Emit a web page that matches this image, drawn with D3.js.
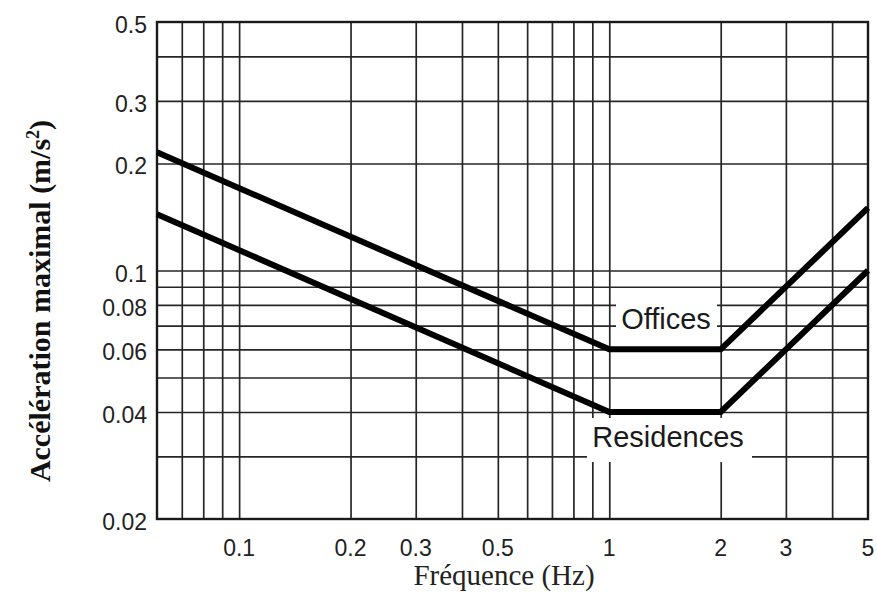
<!DOCTYPE html>
<html>
<head>
<meta charset="utf-8">
<script src="https://cdn.jsdelivr.net/npm/d3@7"></script>
<style>
  html, body { margin: 0; padding: 0; background: #fff; }
  svg { display: block; }
</style>
</head>
<body>
<svg id="chart" width="877" height="592"></svg>
<script>
// ---- data ----
const frequencies = [0.06, 1, 2, 5];
const officesValues = [0.215, 0.06, 0.06, 0.15];
const residencesValues = [0.144, 0.04, 0.04, 0.1];
const xGridValues = [0.07, 0.08, 0.09, 0.1, 0.2, 0.3, 0.4, 0.5, 0.6, 0.7, 0.8, 0.9, 1, 2, 3, 4];
const yGridValues = [0.03, 0.04, 0.05, 0.06, 0.07, 0.08, 0.09, 0.1, 0.2, 0.3, 0.4];
const xTickLabels = [0.1, 0.2, 0.3, 0.5, 1, 2, 3, 5];
const yTickLabels = [0.5, 0.3, 0.2, 0.1, 0.08, 0.06, 0.04, 0.02];
const xDomain = [0.06, 5];
const yDomain = [0.02, 0.5];

// ---- layout ----
const L = 157, R = 868, T = 22, B = 519;
const svg = d3.select("#chart");
const x = d3.scaleLog().domain(xDomain).range([L, R]);
const y = d3.scaleLog().domain(yDomain).range([B, T]);

const gridColor = "#262626";

// vertical grid
svg.append("g")
  .attr("transform", `translate(0,${B})`)
  .call(d3.axisBottom(x).tickValues(xGridValues).tickSize(-(B - T)).tickFormat(""))
  .call(g => g.select(".domain").remove())
  .call(g => g.selectAll("line").attr("stroke", gridColor).attr("stroke-width", 1.7));

// horizontal grid
svg.append("g")
  .attr("transform", `translate(${L},0)`)
  .call(d3.axisLeft(y).tickValues(yGridValues).tickSize(-(R - L)).tickFormat(""))
  .call(g => g.select(".domain").remove())
  .call(g => g.selectAll("line").attr("stroke", gridColor).attr("stroke-width", 1.7));

// frame
svg.append("rect")
  .attr("x", x(xDomain[0])).attr("y", y(yDomain[1]))
  .attr("width", x(xDomain[1]) - x(xDomain[0]))
  .attr("height", y(yDomain[0]) - y(yDomain[1]))
  .attr("fill", "none").attr("stroke", "#1a1a1a").attr("stroke-width", 2.4);

// label backgrounds (erase grid behind labels)
svg.append("rect").attr("x", 616).attr("y", 300).attr("width", 101).attr("height", 33).attr("fill", "#fff");
svg.append("rect").attr("x", 587).attr("y", 418).attr("width", 165).attr("height", 44).attr("fill", "#fff");

// curves
const line = d3.line().x(d => x(d[0])).y(d => y(d[1]));
[officesValues, residencesValues].forEach(vals => {
  svg.append("path")
    .datum(frequencies.map((f, i) => [f, vals[i]]))
    .attr("d", line)
    .attr("fill", "none")
    .attr("stroke", "#000")
    .attr("stroke-width", 6)
    .attr("stroke-linejoin", "miter");
});

// curve labels
svg.append("text").attr("x", 666).attr("y", 329)
  .attr("text-anchor", "middle")
  .style("font-family", "'Liberation Sans', Arial, sans-serif").style("font-size", "29px").attr("fill", "#1a1a1a")
  .text("Offices");
svg.append("text").attr("x", 668).attr("y", 447)
  .attr("text-anchor", "middle")
  .style("font-family", "'Liberation Sans', Arial, sans-serif").style("font-size", "29px").attr("fill", "#1a1a1a")
  .text("Residences");

// x tick labels
svg.append("g").selectAll("text").data(xTickLabels).join("text")
  .attr("x", d => x(d)).attr("y", 556)
  .attr("text-anchor", "middle")
  .style("font-family", "'Liberation Sans', Arial, sans-serif").style("font-size", "23px").attr("fill", "#222")
  .text(d => String(d));

// y tick labels
svg.append("g").selectAll("text").data(yTickLabels).join("text")
  .attr("x", 147).attr("y", d => y(d) + 11)
  .attr("text-anchor", "end")
  .style("font-family", "'Liberation Sans', Arial, sans-serif").style("font-size", "23px").attr("fill", "#222")
  .text(d => String(d));

// x title
svg.append("text").attr("x", 504).attr("y", 585)
  .attr("text-anchor", "middle")
  .style("font-family", "'Liberation Serif', 'Times New Roman', serif").style("font-size", "29px").attr("fill", "#222")
  .text("Fréquence (Hz)");

// y title
const yt = svg.append("text")
  .attr("transform", "translate(50,301) rotate(-90)")
  .attr("text-anchor", "middle")
  .style("font-family", "'Liberation Serif', 'Times New Roman', serif").style("font-size", "30px")
  .style("font-weight", "bold").attr("fill", "#111");
yt.append("tspan").text("Accélération maximal (m/s");
yt.append("tspan").attr("dy", -11).style("font-size", "18px").text("2");
yt.append("tspan").attr("dy", 11).text(")");
</script>
</body>
</html>
